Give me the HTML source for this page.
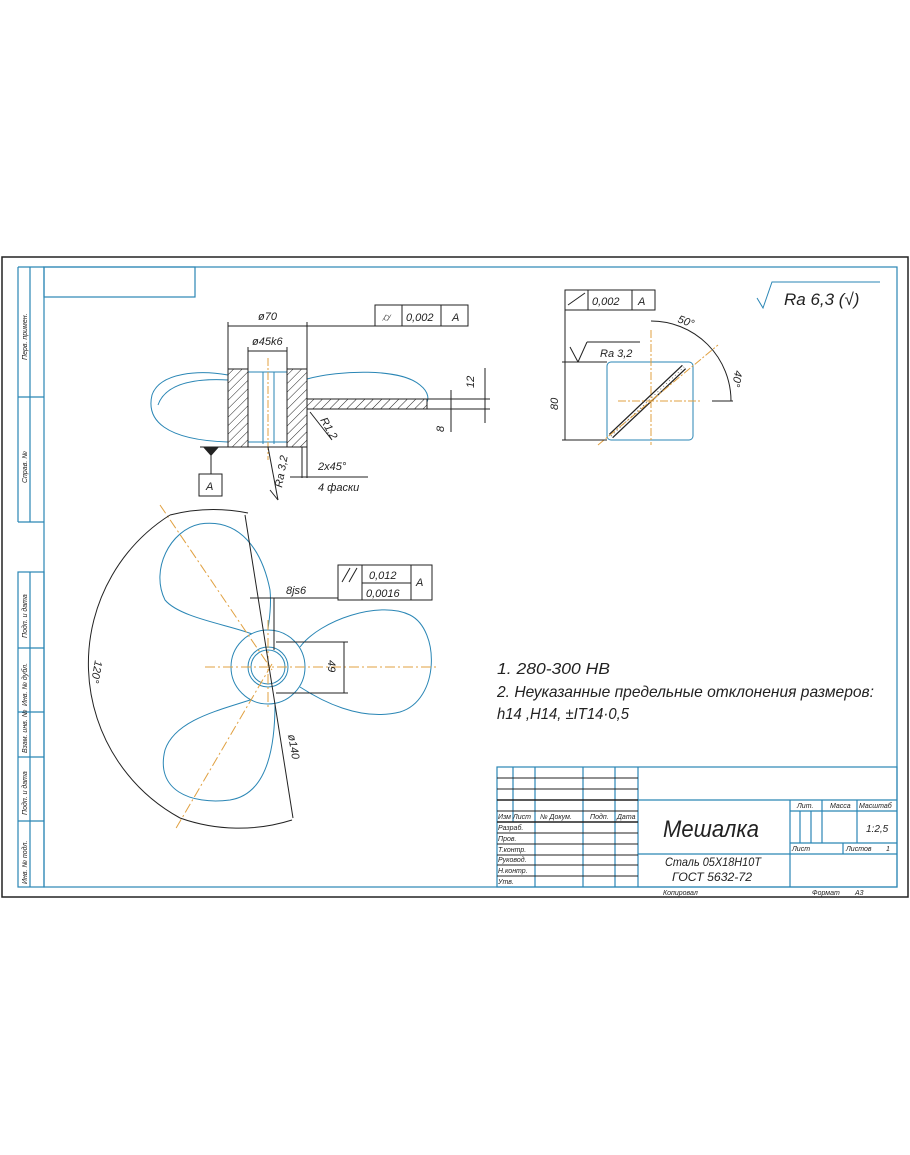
<!DOCTYPE html>
<html><head><meta charset="utf-8"><style>
html,body{margin:0;padding:0;background:#fff;}
svg{display:block;}
text{font-family:"Liberation Sans","DejaVu Sans",sans-serif;font-style:italic;}
</style></head><body>
<svg width="910" height="1155" viewBox="0 0 910 1155" xmlns="http://www.w3.org/2000/svg">
<defs>
<pattern id="h" width="6" height="6" patternUnits="userSpaceOnUse" patternTransform="rotate(45)">
<line x1="0" y1="0" x2="0" y2="6" stroke="#222" stroke-width="1"/>
</pattern>
</defs>
<!-- frames -->
<rect x="2" y="257" width="906" height="640" fill="none" stroke="#222" stroke-width="1.5"/>
<g stroke="#2a86b5" stroke-width="1.2" fill="none">
<rect x="44" y="267" width="853" height="620"/>
<rect x="44" y="267" width="151" height="30"/>
<line x1="18" y1="267" x2="44" y2="267"/>
<line x1="18" y1="267" x2="18" y2="522"/>
<line x1="30" y1="267" x2="30" y2="522"/>
<line x1="18" y1="522" x2="44" y2="522"/>
<line x1="18" y1="397" x2="44" y2="397"/>
<rect x="18" y="572" width="26" height="315"/>
<line x1="30" y1="572" x2="30" y2="887"/>
<line x1="18" y1="648" x2="44" y2="648"/>
<line x1="18" y1="712" x2="44" y2="712"/>
<line x1="18" y1="757" x2="44" y2="757"/>
<line x1="18" y1="821" x2="44" y2="821"/>
<!-- title block -->
<rect x="497" y="767" width="400" height="120"/>
<line x1="638" y1="800" x2="897" y2="800"/>
<line x1="638" y1="767" x2="638" y2="887"/>
<line x1="513" y1="767" x2="513" y2="822"/>
<line x1="535" y1="767" x2="535" y2="887"/>
<line x1="583" y1="767" x2="583" y2="887"/>
<line x1="615" y1="767" x2="615" y2="887"/>
<line x1="790" y1="800" x2="790" y2="887"/>
<line x1="822" y1="800" x2="822" y2="843"/>
<line x1="857" y1="800" x2="857" y2="843"/>
<line x1="790" y1="811" x2="897" y2="811"/>
<line x1="790" y1="843" x2="897" y2="843"/>
<line x1="638" y1="854" x2="897" y2="854"/>
<line x1="843" y1="843" x2="843" y2="854"/>
<line x1="800" y1="811" x2="800" y2="843"/>
<line x1="811" y1="811" x2="811" y2="843"/>
</g>
<g stroke="#222" stroke-width="1">
<line x1="497" y1="778" x2="638" y2="778"/>
<line x1="497" y1="789" x2="638" y2="789"/>
<line x1="497" y1="800" x2="638" y2="800" stroke-width="1.5"/>
<line x1="497" y1="811" x2="638" y2="811"/>
<line x1="497" y1="822" x2="638" y2="822" stroke-width="1.5"/>
<line x1="497" y1="833" x2="638" y2="833"/>
<line x1="497" y1="844" x2="638" y2="844"/>
<line x1="497" y1="855" x2="638" y2="855"/>
<line x1="497" y1="865" x2="638" y2="865"/>
<line x1="497" y1="876" x2="638" y2="876"/>
</g>
<g font-size="7" fill="#222">
<text x="498" y="819">Изм Лист</text><text x="540" y="819">№ Докум.</text><text x="590" y="819">Подп.</text><text x="617" y="819">Дата</text>
<text x="498" y="830">Разраб.</text><text x="498" y="841">Пров.</text><text x="498" y="852">Т.контр.</text>
<text x="498" y="862">Руковод.</text><text x="498" y="873">Н.контр.</text><text x="498" y="884">Утв.</text>
<text x="797" y="808">Лит.</text><text x="830" y="808">Масса</text><text x="859" y="808">Масштаб</text>
<text x="792" y="851">Лист</text><text x="846" y="851">Листов</text><text x="886" y="851">1</text>
<text x="663" y="895">Копировал</text><text x="812" y="895">Формат</text><text x="855" y="895">А3</text>
</g>
<text x="866" y="832" font-size="10" fill="#222">1:2,5</text>
<text x="663" y="837" font-size="24" fill="#222" textLength="96" lengthAdjust="spacingAndGlyphs">Мешалка</text>
<text x="665" y="866" font-size="12" fill="#222" textLength="96" lengthAdjust="spacingAndGlyphs">Сталь 05Х18Н10Т</text>
<text x="672" y="881" font-size="12" fill="#222" textLength="80" lengthAdjust="spacingAndGlyphs">ГОСТ 5632-72</text>
<!-- left strip labels -->
<g font-size="7" fill="#222">
<text transform="translate(27,360) rotate(-90)">Перв. примен.</text>
<text transform="translate(27,483) rotate(-90)">Справ. №</text>
<text transform="translate(27,638) rotate(-90)">Подп. и дата</text>
<text transform="translate(27,706) rotate(-90)">Инв. № дубл.</text>
<text transform="translate(27,753) rotate(-90)">Взам. инв. №</text>
<text transform="translate(27,815) rotate(-90)">Подп. и дата</text>
<text transform="translate(27,884) rotate(-90)">Инв. № подл.</text>
</g>
<!-- top left view -->
<g fill="none" stroke="#2a86b5" stroke-width="1">
<path d="M228,375 C200,370 160,372 152,395 C146,420 165,440 228,442"/>
<path d="M228,380 C190,378 165,385 158,405"/>
<path d="M307,379 C340,370 400,368 420,385 C430,393 428,400 427,402"/>
<line x1="248" y1="372" x2="248" y2="444"/><line x1="263" y1="372" x2="263" y2="444"/>
<line x1="274" y1="372" x2="274" y2="444"/><line x1="287" y1="372" x2="287" y2="444"/>
<line x1="248" y1="372" x2="287" y2="372"/><line x1="248" y1="442" x2="287" y2="442"/>
</g>
<rect x="228" y="369" width="20" height="78" fill="url(#h)" stroke="#222"/>
<rect x="287" y="369" width="20" height="78" fill="url(#h)" stroke="#222"/>
<rect x="307" y="399" width="120" height="10" fill="url(#h)" stroke="#222"/>
<line x1="268" y1="358" x2="268" y2="460" stroke="#e0a040" stroke-dasharray="8,2,2,2"/>
<g stroke="#222" stroke-width="1" fill="none">
<line x1="228" y1="369" x2="228" y2="322"/><line x1="307" y1="369" x2="307" y2="322"/>
<line x1="228" y1="326" x2="307" y2="326"/><line x1="307" y1="326" x2="375" y2="326"/>
<line x1="248" y1="372" x2="248" y2="347"/><line x1="287" y1="372" x2="287" y2="347"/>
<line x1="248" y1="351" x2="287" y2="351"/>
<rect x="375" y="305" width="93" height="21"/><line x1="402" y1="305" x2="402" y2="326"/><line x1="441" y1="305" x2="441" y2="326"/>
<line x1="427" y1="399" x2="490" y2="399"/><line x1="427" y1="409" x2="490" y2="409"/>
<line x1="451" y1="390" x2="451" y2="432"/><line x1="485" y1="368" x2="485" y2="423"/>
<line x1="310" y1="412" x2="332" y2="440"/>
<line x1="200" y1="447" x2="307" y2="447"/>
<line x1="211" y1="447" x2="211" y2="474"/><rect x="199" y="474" width="23" height="22"/>
<line x1="268" y1="447" x2="278" y2="500"/><line x1="278" y1="500" x2="270" y2="490"/>
<line x1="302" y1="447" x2="302" y2="478"/><line x1="307" y1="447" x2="307" y2="478"/>
<line x1="290" y1="477" x2="368" y2="477"/>
</g>
<path d="M203,447 L219,447 L211,456Z" fill="#222"/>
<g font-size="11" fill="#222">
<text x="258" y="320">ø70</text><text x="252" y="345">ø45k6</text>
<text x="406" y="321">0,002</text><text x="452" y="321">A</text>
<text x="382" y="321">⌭</text>
<text x="206" y="490">A</text>
<text transform="translate(474,388) rotate(-90)">12</text>
<text transform="translate(444,432) rotate(-90)">8</text>
<text transform="translate(320,420) rotate(60)">R1,2</text>
<text transform="translate(282,488) rotate(-80)">Ra 3,2</text>
<text x="318" y="470">2x45°</text><text x="318" y="491">4 фаски</text>
</g>
<!-- top right section -->
<rect x="607" y="362" width="86" height="78" rx="4" fill="none" stroke="#2a86b5"/>
<g stroke="#222" fill="none">
<line x1="611" y1="436" x2="684" y2="367" stroke-width="6"/>
</g>
<line x1="611" y1="436" x2="684" y2="367" stroke="#fff" stroke-width="3.5"/>
<line x1="611" y1="436" x2="684" y2="367" stroke="#222" stroke-width="0.6" stroke-dasharray="1,3"/>
<g stroke="#e0a040" stroke-dasharray="8,2,2,2" fill="none">
<line x1="618" y1="401" x2="700" y2="401"/><line x1="651" y1="330" x2="651" y2="445"/>
<line x1="598" y1="445" x2="718" y2="345"/>
</g>
<g stroke="#222" fill="none">
<rect x="565" y="290" width="90" height="20"/><line x1="588" y1="290" x2="588" y2="310"/><line x1="632" y1="290" x2="632" y2="310"/>
<line x1="565" y1="310" x2="565" y2="440"/>
<line x1="562" y1="362" x2="607" y2="362"/><line x1="562" y1="440" x2="607" y2="440"/>
<line x1="570" y1="347" x2="578" y2="362"/><line x1="578" y1="362" x2="587" y2="342"/><line x1="587" y1="342" x2="640" y2="342"/>
<path d="M651,321 A80,80 0 0 1 731,401"/>
<line x1="712" y1="401" x2="733" y2="401"/>
<line x1="568" y1="305" x2="585" y2="293"/>
</g>
<g font-size="11" fill="#222">
<text x="592" y="305">0,002</text><text x="638" y="305">A</text>
<text x="600" y="357">Ra 3,2</text>
<text transform="translate(558,410) rotate(-90)">80</text>
<text x="677" y="322" transform="rotate(20,677,322)">50°</text>
<text transform="translate(735,370) rotate(100)">40°</text>
</g>
<path d="M757,298 L763,308 L772,282 L880,282" fill="none" stroke="#2a86b5"/>
<text x="784" y="305" font-size="17" fill="#222">Ra 6,3 (√)</text>
<!-- propeller -->
<g fill="none" stroke="#2a86b5" stroke-width="1">
<circle cx="268" cy="667" r="37"/>
<circle cx="268" cy="667" r="20"/><circle cx="268" cy="667" r="17"/>
<path d="M252,634 C230,625 180,618 165,600 C150,570 170,530 200,524 C240,518 262,550 270,590 C272,610 268,625 268,630"/>
<path d="M300,647 C320,620 380,600 410,615 C440,630 440,700 400,712 C360,722 320,700 300,687"/>
<path d="M250,700 C220,710 175,720 165,750 C155,790 190,805 230,800 C262,795 275,760 275,704"/>
</g>
<g stroke="#e0a040" stroke-dasharray="10,3,2,3" fill="none">
<line x1="205" y1="667" x2="438" y2="667"/>
<line x1="160" y1="505" x2="272" y2="670"/>
<line x1="272" y1="664" x2="175" y2="830"/>
<line x1="268" y1="620" x2="268" y2="710"/>
</g>
<g stroke="#222" fill="none">
<path d="M170,515 A176,176 0 0 0 180,818"/>
<path d="M170,515 A176,176 0 0 1 248,513"/>
<path d="M180,818 A176,176 0 0 0 292,820"/>
<line x1="245" y1="515" x2="293" y2="818"/>
<line x1="250" y1="598" x2="338" y2="598"/>
<line x1="274" y1="598" x2="274" y2="650"/>
<line x1="276" y1="642" x2="348" y2="642"/><line x1="276" y1="693" x2="348" y2="693"/>
<line x1="344" y1="642" x2="344" y2="693"/>
<rect x="338" y="565" width="94" height="35"/>
<line x1="362" y1="565" x2="362" y2="600"/><line x1="411" y1="565" x2="411" y2="600"/>
<line x1="362" y1="583" x2="411" y2="583"/>
<line x1="342" y1="582" x2="350" y2="568"/><line x1="349" y1="582" x2="357" y2="568"/>
</g>
<g font-size="11" fill="#222">
<text x="286" y="594">8js6</text>
<text x="369" y="579">0,012</text><text x="366" y="597">0,0016</text><text x="416" y="586">A</text>
<text transform="translate(328,660) rotate(90)">49</text>
<text transform="translate(288,735) rotate(80)">ø140</text>
<text transform="translate(95,660) rotate(100)">120°</text>
</g>
<!-- notes -->
<g font-size="16" fill="#222">
<text x="497" y="674" textLength="113" lengthAdjust="spacingAndGlyphs">1. 280-300 HB</text>
<text x="497" y="697" textLength="377" lengthAdjust="spacingAndGlyphs">2. Неуказанные предельные отклонения размеров:</text>
<text x="497" y="719" textLength="132" lengthAdjust="spacingAndGlyphs">h14 ,H14, ±IT14·0,5</text>
</g>
</svg>
</body></html>
